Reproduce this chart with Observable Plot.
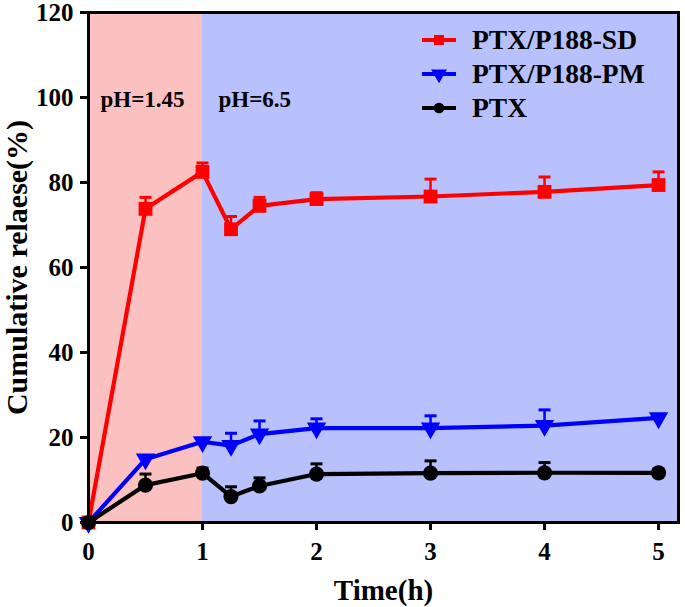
<!DOCTYPE html>
<html>
<head>
<meta charset="utf-8">
<script src="https://cdn.jsdelivr.net/npm/d3@7"></script>
<script src="https://cdn.jsdelivr.net/npm/@observablehq/plot@0.6"></script>
<style>
  html, body { margin: 0; padding: 0; background: #fff; }
  #wrap { position: relative; width: 685px; height: 607px; font-family: "Liberation Serif", "DejaVu Serif", serif; }
  #wrap svg text { font-family: "Liberation Serif", "DejaVu Serif", serif !important; font-weight: bold; }
  #legend { position: absolute; left: 420px; top: 23px; font-family: "Liberation Serif", "DejaVu Serif", serif; font-weight: bold; font-size: 27.5px; }
  #legend .row { display: flex; align-items: center; height: 34px; }
  #legend svg { margin-right: 16px; }
</style>
</head>
<body>
<div id="wrap"><div id="legend"></div></div>
<script>
// ---- data ----
const time = [0, 0.5, 1, 1.25, 1.5, 2, 3, 4, 5];
const seriesNames = ["PTX/P188-SD", "PTX/P188-PM", "PTX"];
const seriesColors = ["#ff0000", "#0000ff", "#000000"];
const sdValues  = [0, 73.8, 82.5, 69.0, 74.5, 76.1, 76.7, 77.8, 79.4];
const sdErrors  = [0, 2.7, 2.1, 3.0, 2.0, 1.5, 4.1, 3.5, 3.1];
const pmValues  = [0, 14.9, 19.0, 18.1, 20.8, 22.2, 22.2, 22.8, 24.6];
const pmErrors  = [0, 0, 0, 2.9, 3.1, 2.2, 2.9, 3.7, 0];
const ptxValues = [0, 8.8, 11.6, 6.1, 8.6, 11.4, 11.6, 11.7, 11.7];
const ptxErrors = [0, 2.6, 1.2, 2.3, 1.9, 2.4, 2.9, 2.4, 0.9];
const xTicks = [0, 1, 2, 3, 4, 5];
const yTicks = [0, 20, 40, 60, 80, 100, 120];
const xMax = 5.175;
const yMax = 120;
const bandStart = [0, 1];
const bandEnd = [1, xMax];
const bandColors = ["#fbc1c1", "#b9c1fc"];
const phLabels = ["pH=1.45", "pH=6.5"];
const phX = [0.105, 1.14];
const phY = [99.4, 99.4];

// ---- build tables ----
const allValues = [sdValues, pmValues, ptxValues];
const allErrors = [sdErrors, pmErrors, ptxErrors];
const rows = [];
seriesNames.forEach((s, i) => {
  time.forEach((t, j) => rows.push({s, i, t, v: allValues[i][j], e: allErrors[i][j]}));
});
const bands = bandStart.map((a, k) => ({x1: a, x2: bandEnd[k], c: bandColors[k]}));
const phTable = phLabels.map((l, k) => ({l, x: phX[k], y: phY[k]}));

const capSymbol = { draw(ctx, size) { ctx.moveTo(-6, 0); ctx.lineTo(6, 0); } };
const font = "Liberation Serif";

const marks = [
  Plot.rect(bands, {x1: "x1", x2: "x2", y1: 0, y2: yMax, fill: "c"}),
  Plot.text(phTable, {x: "x", y: "y", text: "l", textAnchor: "start", fontSize: 23, fontWeight: "bold", fill: "black"}),
];
seriesNames.forEach((s, i) => {
  const d = rows.filter(r => r.i === i);
  const col = seriesColors[i];
  marks.push(Plot.line(d, {x: "t", y: "v", stroke: col, strokeWidth: 4.2}));
  marks.push(Plot.ruleX(d.filter(r => r.e > 0), {x: "t", y1: "v", y2: r => r.v + r.e, stroke: col, strokeWidth: 2.5}));
  marks.push(Plot.dot(d.filter(r => r.e > 0), {x: "t", y: r => r.v + r.e, symbol: capSymbol, stroke: col, strokeWidth: 3}));
  if (i === 0) marks.push(Plot.dot(d, {x: "t", y: "v", symbol: "square", r: 7.8, fill: col, stroke: "none"}));
  if (i === 1) marks.push(Plot.dot(d, {x: "t", y: "v", symbol: "triangle", r: 7.2, rotate: 180, fill: col, stroke: "none"}));
  if (i === 2) marks.push(Plot.dot(d, {x: "t", y: "v", symbol: "circle", r: 7.6, fill: col, stroke: "none"}));
});
marks.push(
  Plot.frame({stroke: "black", strokeWidth: 3}),
  Plot.axisX({ticks: xTicks, tickSize: 8, tickFormat: () => "", label: null, strokeWidth: 3}),
  Plot.axisY({ticks: yTicks, tickSize: 8, tickFormat: () => "", label: null, strokeWidth: 3}),
  Plot.text(xTicks, {x: d => d, frameAnchor: "bottom", lineAnchor: "top", dy: 20, text: d => String(d), fontSize: 25, fontWeight: "bold", fill: "black"}),
  Plot.text(yTicks, {y: d => d, frameAnchor: "left", textAnchor: "end", lineAnchor: "middle", dx: -15, text: d => String(d), fontSize: 25, fontWeight: "bold", fill: "black"}),
  Plot.text(["Time(h)"], {frameAnchor: "bottom", dy: 77, text: d => d, fontSize: 29, fontWeight: "bold", fill: "black"}),
  Plot.text(["Cumulative relaese(%)"], {frameAnchor: "left", textAnchor: "middle", dx: -71, rotate: -90, text: d => d, fontSize: 30, fontWeight: "bold", fill: "black"})
);

const chart = Plot.plot({
  width: 685,
  height: 607,
  marginLeft: 88,
  marginRight: 7,
  marginTop: 12,
  marginBottom: 85,
  x: {domain: [0, xMax]},
  y: {domain: [0, yMax]},
  style: {fontFamily: font, fontWeight: "bold", color: "black", background: "white", overflow: "visible"},
  marks
});
document.getElementById("wrap").prepend(chart);
chart.style.position = "absolute";
chart.style.left = "0";
chart.style.top = "0";

// ---- legend ----
const legend = d3.select("#legend");
seriesNames.forEach((s, i) => {
  const row = legend.append("div").attr("class", "row");
  const svg = row.append("svg").attr("width", 36).attr("height", 20);
  svg.append("line").attr("x1", 2).attr("x2", 36).attr("y1", 10).attr("y2", 10).attr("stroke", seriesColors[i]).attr("stroke-width", 4);
  const sym = i === 0 ? d3.symbolSquare : i === 1 ? d3.symbolTriangle : d3.symbolCircle;
  const size = i === 0 ? 100 : i === 1 ? 110 : 90;
  svg.append("path").attr("d", d3.symbol(sym, size)()).attr("transform", `translate(19,10)${i === 1 ? " rotate(180)" : ""}`).attr("fill", seriesColors[i]);
  row.append("span").text(s);
});
</script>
</body>
</html>
